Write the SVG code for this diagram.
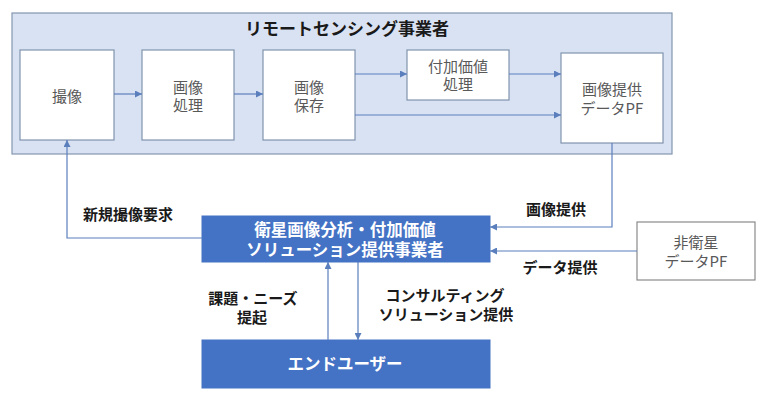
<svg xmlns="http://www.w3.org/2000/svg" width="768" height="399" viewBox="0 0 768 399">
<style>
.box{fill:#fff;stroke:#8093ad;stroke-width:1.2}
.blue{fill:#4472c4;stroke:#4472c4}
.t{font-family:"Noto Sans CJK JP","Noto Sans",sans-serif;font-size:15px;fill:#595959;text-anchor:middle;dominant-baseline:central}
.b{font-family:"Noto Sans CJK JP","Noto Sans",sans-serif;font-size:15px;font-weight:bold;fill:#1a1a1a;text-anchor:middle;dominant-baseline:central}
.w{font-family:"Noto Sans CJK JP","Noto Sans",sans-serif;font-size:16.5px;font-weight:bold;fill:#fff;text-anchor:middle;dominant-baseline:central}
.c{fill:none;stroke:#5b7fbd;stroke-width:1.2}
</style>
<defs>
<marker id="ah" viewBox="0 0 10 10" refX="10" refY="5" markerWidth="7" markerHeight="7" markerUnits="userSpaceOnUse" orient="auto">
<path d="M0,0 L10,5 L0,10 z" fill="#5b7fbd"/>
</marker>
</defs>
<rect width="768" height="399" fill="#fff"/>
<g id="remote-sensing">
<rect x="12" y="13" width="660" height="141" fill="#d9e2f3" stroke="#8497b0" stroke-width="1.2"/>
<text x="347" y="27" class="b" style="font-size:17px">リモートセンシング事業者</text>
</g>
<g id="capture">
<rect class="box" x="20" y="50" width="94" height="90"/>
<text class="t" x="67" y="95">撮像</text>
</g>
<g id="processing">
<rect class="box" x="142" y="50" width="92" height="90"/>
<text class="t" x="188" y="86">画像<tspan x="188" dy="18">処理</tspan></text>
</g>
<g id="storage">
<rect class="box" x="263" y="50" width="92" height="90"/>
<text class="t" x="309" y="86">画像<tspan x="309" dy="18">保存</tspan></text>
</g>
<g id="value-added">
<rect class="box" x="407" y="50" width="102" height="50"/>
<text class="t" x="458" y="65">付加価値<tspan x="458" dy="18">処理</tspan></text>
</g>
<g id="image-pf">
<rect class="box" x="561" y="53" width="102" height="90"/>
<text class="t" x="612" y="88">画像提供<tspan x="612" dy="19">データPF</tspan></text>
</g>
<g id="solution-provider">
<rect class="blue" x="202" y="216" width="288" height="46"/>
<text class="w" x="345" y="229">衛星画像分析・付加価値<tspan x="345" dy="20">ソリューション提供事業者</tspan></text>
</g>
<g id="non-satellite-pf">
<rect x="637" y="222" width="118" height="58" fill="#fff" stroke="#8a8a8a" stroke-width="1.2"/>
<text class="t" x="696" y="241">非衛星<tspan x="696" dy="19">データPF</tspan></text>
</g>
<g id="end-user">
<rect class="blue" x="202" y="340" width="288" height="48"/>
<text class="w" x="345" y="363">エンドユーザー</text>
</g>
<g id="connectors">
<path class="c" d="M114,94 H142" marker-end="url(#ah)"/>
<path class="c" d="M234,94 H263" marker-end="url(#ah)"/>
<path class="c" d="M355,74 H407" marker-end="url(#ah)"/>
<path class="c" d="M509,74 H561" marker-end="url(#ah)"/>
<path class="c" d="M355,115 H561" marker-end="url(#ah)"/>
<path class="c" d="M612,143 V227 H490" marker-end="url(#ah)"/>
<path class="c" d="M637,251 H490" marker-end="url(#ah)"/>
<path class="c" d="M202,238 H67 V140" marker-end="url(#ah)"/>
<path class="c" d="M328,340 V262" marker-end="url(#ah)"/>
<path class="c" d="M358,262 V340" marker-end="url(#ah)"/>
</g>
<g id="labels">
<text class="b" x="128" y="213">新規撮像要求</text>
<text class="b" x="556" y="208">画像提供</text>
<text class="b" x="560" y="266">データ提供</text>
<text class="b" x="253" y="297">課題・ニーズ<tspan x="252" dy="19">提起</tspan></text>
<text class="b" x="445" y="294">コンサルティング<tspan x="446" dy="19">ソリューション提供</tspan></text>
</g>
</svg>
